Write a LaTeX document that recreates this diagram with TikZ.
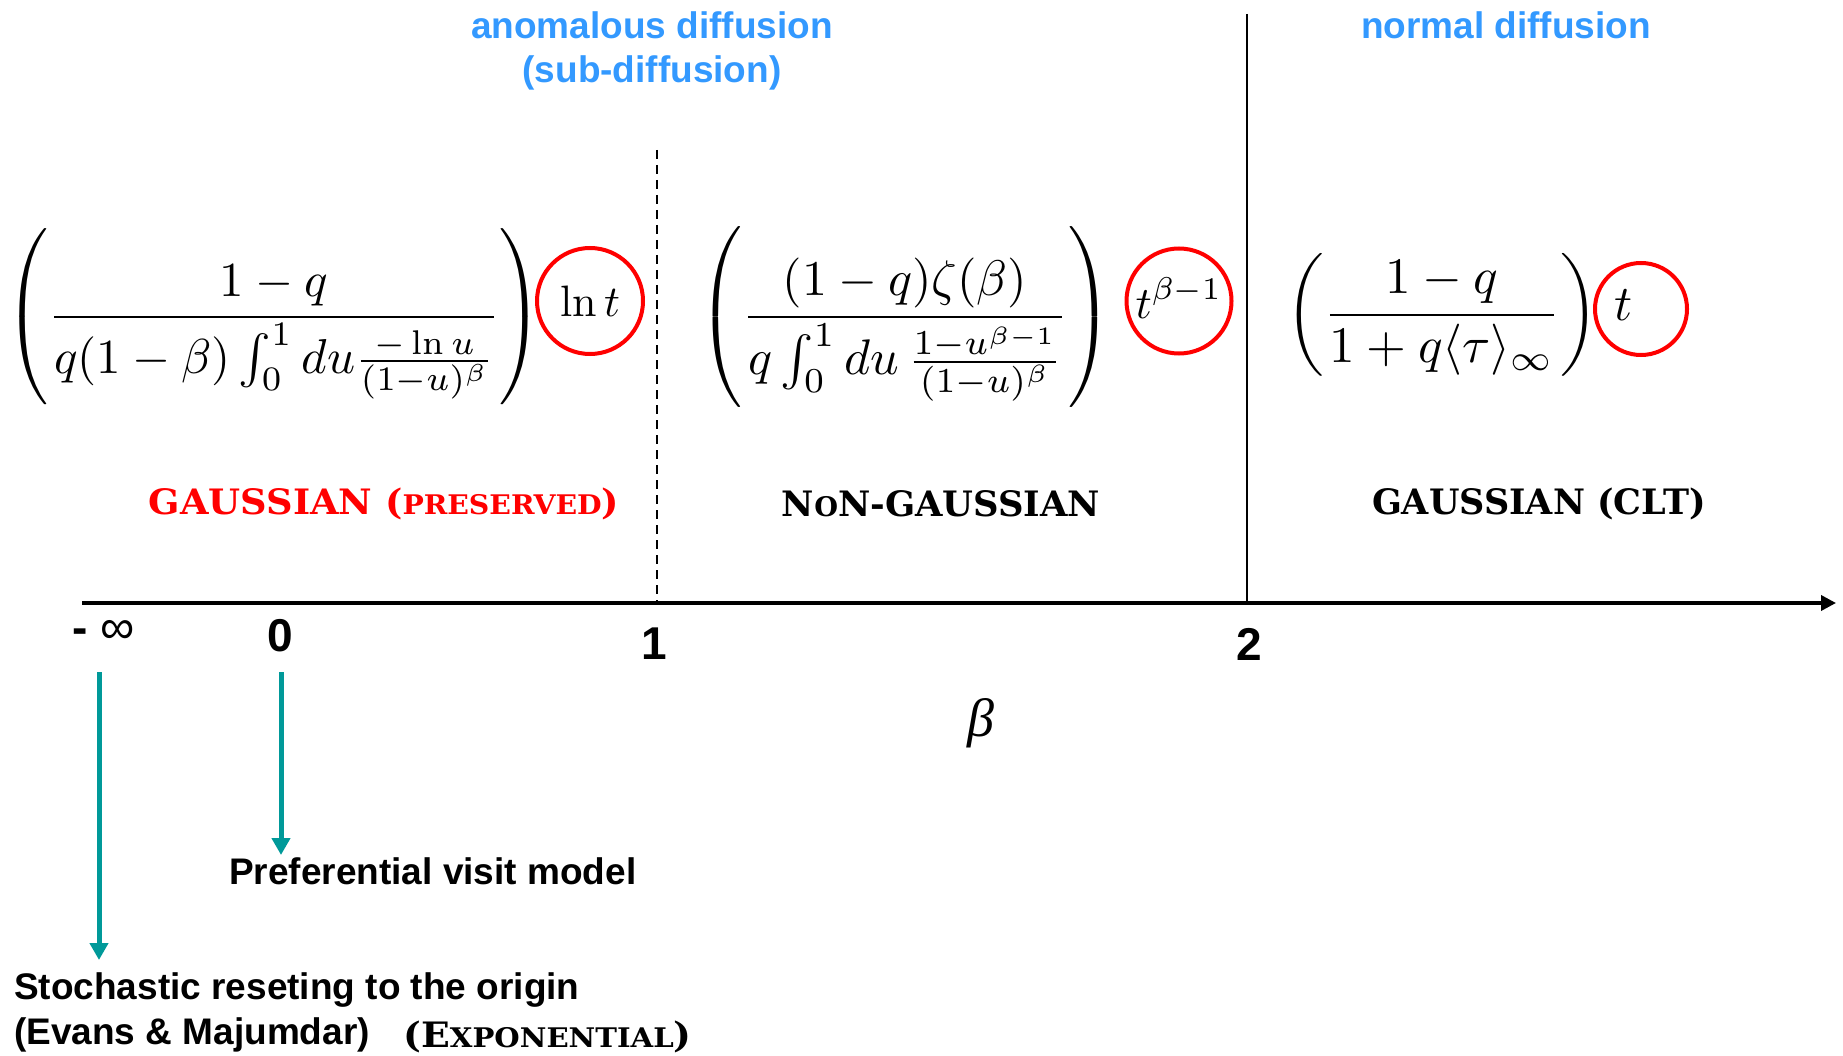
\documentclass[tikz,border=0pt]{standalone}
\usepackage{amsmath}
\usepackage{graphicx}
\usepackage{fontspec}
\newfontfamily\lsans{Liberation Sans}
\newfontfamily\lserif{Liberation Serif}
\newfontfamily\dvserif{DejaVu Serif}
\usetikzlibrary{arrows.meta}
\definecolor{skyblue}{RGB}{51,153,255}
\definecolor{tealc}{RGB}{0,153,153}
\newcommand{\capbig}{\fontsize{35}{37}\selectfont}
\newcommand{\capsmall}{\fontsize{27}{30}\selectfont}
\newcommand{\fmla}[2]{\scalebox{#1}{$\displaystyle #2$}}
\tikzset{
  x=1pt,y=-1pt,
  bluetxt/.style={font=\lsans\bfseries\fontsize{37}{40}\selectfont, text=skyblue, inner sep=0, align=center},
  blktxt/.style={font=\lsans\bfseries\fontsize{37}{40}\selectfont, text=black, inner sep=0},
  numtxt/.style={font=\lsans\bfseries\fontsize{46}{50}\selectfont, inner sep=0},
  regtxt/.style={font=\dvserif\bfseries, inner sep=0},
  mathtxt/.style={inner sep=0},
  ring/.style={circle, draw=red, line width=4pt, inner sep=0},
  tealarrow/.style={draw=tealc, line width=5pt, -{Triangle[length=17pt,width=18pt]}},
}
\begin{document}
\begin{tikzpicture}
\useasboundingbox (0,0) rectangle (1843,1056);
% header texts
\node[bluetxt] (anom) at (652,25) {anomalous diffusion};
\node[bluetxt] (sub) at (652,73) {(sub-diffusion)};
\node[bluetxt] (norm) at (1506,25) {normal diffusion};
% separators
\coordinate (d1t) at (657,150);
\coordinate (d1b) at (657,603);
\coordinate (s2t) at (1247,14);
\coordinate (s2b) at (1247,603);
\draw[line width=2pt, dash pattern=on 9pt off 6pt] (d1t) -- (d1b);
\draw[line width=2.5pt] (s2t) -- (s2b);
% axis
\coordinate (axL) at (82,603);
\coordinate (axR) at (1836,603);
\draw[line width=3.5pt, -{Triangle[length=15pt,width=15pt]}] (axL) -- (axR);
% formulas
\node[mathtxt] (f1) at (274,317) {\fmla{4.9}{\left(\frac{1-q}{q(1-\beta)\int_0^1 du\frac{-\ln u}{(1-u)^{\beta}}}\right)}};
\node[mathtxt] (f2) at (905,317) {\fmla{5}{\left(\frac{(1-q)\zeta(\beta)}{q\int_0^1 du\,\frac{1-u^{\beta-1}}{(1-u)^{\beta}}}\right)}};
\node[mathtxt] (f3) at (1442,315) {\fmla{5.12}{\left(\frac{1-q}{1+q\langle\tau\rangle_\infty}\right)}};
% circles
\node[ring, minimum size=106pt] (c1) at (590,301) {};
\node[mathtxt] (t1) at (590,301) {\fmla{4.4}{\ln t}};
\node[ring, minimum size=105pt] (c2) at (1179,301) {};
\node[mathtxt] (t2) at (1179,298) {\fmla{4.5}{t^{\beta-1}}};
\node[ring, minimum size=92pt] (c3) at (1641,309) {};
\node[mathtxt] (t3) at (1624,305) {\fmla{5}{t}};
% regime labels
\node[regtxt, text=red] (g1) at (384,504) {\scalebox{1.05}[1]{\capbig GAUSSIAN (\capsmall PRESERVED\capbig)}};
\node[regtxt] (g2) at (941,504) {\scalebox{1.01}[1]{\capbig N\capsmall O\capbig N-GAUSSIAN}};
\node[regtxt] (g3) at (1539,504) {\scalebox{1}[1]{\capbig GAUSSIAN (CLT)}};
% axis labels
\node[numtxt] (minf) at (104,632) {- {\fontsize{48}{48}\selectfont\lsans\mdseries ∞}};
\node[numtxt] (zero) at (280,636) {0};
\node[numtxt] (one) at (654,644) {1};
\node[numtxt] (two) at (1249,644) {2};
\node[font=\lserif\itshape\fontsize{54}{54}\selectfont, inner sep=0] (beta) at (981,723) {β};
% arrows
\coordinate (a1s) at (99,672);
\coordinate (a1e) at (99,960);
\coordinate (a2s) at (281,672);
\coordinate (a2e) at (281,855);
\draw[tealarrow] (a1s) -- (a1e);
\draw[tealarrow] (a2s) -- (a2e);
% bottom texts
\node[blktxt, anchor=west] (pref) at (229,871) {Preferential visit model};
\node[blktxt, anchor=west] (stoch) at (14,990) {Stochastic reseting to the origin};
\node[blktxt, anchor=west] (evans) at (14,1035) {(Evans \& Majumdar)};
\node[regtxt, anchor=west] (expo) at (403,1037) {\scalebox{1.08}[1]{\capbig (E\capsmall XPONENTIAL\capbig)}};
\end{tikzpicture}
\end{document}
